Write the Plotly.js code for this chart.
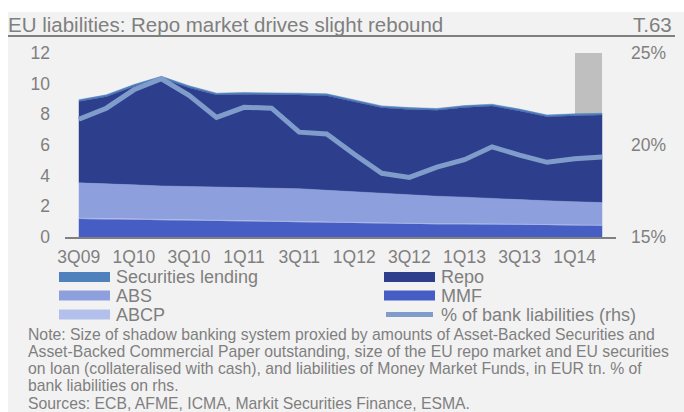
<!DOCTYPE html>
<html><head><meta charset="utf-8">
<script src="https://cdn.plot.ly/plotly-3.0.1.min.js"></script>
<style>html,body{margin:0;padding:0;background:#fff;} #chart{width:684px;height:412px;}</style>
</head><body><div id="chart"></div>
<script>
// ---- data (EUR tn, stacked) ----
const quarters = ['3Q09','4Q09','1Q10','2Q10','3Q10','4Q10','1Q11','2Q11','3Q11','4Q11','1Q12','2Q12','3Q12','4Q12','1Q13','2Q13','3Q13','4Q13','1Q14','2Q14'];
const mmf = [1.18,1.15,1.12,1.11,1.08,1.04,1.03,1.00,0.98,0.95,0.90,0.86,0.83,0.83,0.83,0.83,0.80,0.78,0.76,0.74];
const abcp = [0.06,0.06,0.06,0.05,0.05,0.05,0.05,0.05,0.05,0.05,0.04,0.04,0.04,0.04,0.04,0.04,0.04,0.03,0.03,0.03];
const abs = [2.29,2.27,2.22,2.17,2.17,2.18,2.16,2.15,2.12,2.05,2.01,1.95,1.88,1.79,1.73,1.64,1.59,1.55,1.51,1.48];
const repo = [5.30,5.67,6.41,7.02,6.44,5.99,6.06,6.10,6.11,6.17,5.88,5.58,5.57,5.60,5.85,6.03,5.79,5.48,5.61,5.70];
const secLending = [0.12,0.12,0.13,0.13,0.12,0.12,0.12,0.12,0.12,0.12,0.12,0.12,0.12,0.12,0.12,0.12,0.12,0.12,0.12,0.12];
const pctBankLiab = [21.4,22.0,23.0,23.6,22.7,21.5,22.05,22.0,20.7,20.6,19.5,18.46,18.24,18.8,19.2,19.9,19.45,19.06,19.25,19.35];
// grey highlight column
const highlightCat = ['2Q14'];
const highlightBase = [8.05];
const highlightHeight = [3.95];

const legendNames = ['Securities lending','Repo','ABS','MMF','ABCP','% of bank liabilities (rhs)'];
const noteLines = [
  'Note: Size of shadow banking system proxied by amounts of Asset-Backed Securities and',
  'Asset-Backed Commercial Paper outstanding, size of the EU repo market and EU securities',
  'on loan (collateralised with cash), and liabilities of Money Market Funds, in EUR tn. % of',
  'bank liabilities on rhs.',
  'Sources: ECB, AFME, ICMA, Markit Securities Finance, ESMA.'
];
const titleText = 'EU liabilities: Repo market drives slight rebound';
const chartId = 'T.63';

// ---- styles ----
const C = {
  sec: '#4f81bd', repo: '#2c3e8c', abs: '#8d9fdc', mmf: '#465dc4', abcp: '#b4c0ec',
  pct: '#7f9ccb', grey: '#bfbfbf', bg: '#f2f2f2', text: '#7f7f7f', axis: '#808080'
};
const FONT = 'Liberation Sans, Arial, sans-serif';
const legendColors = [C.sec, C.repo, C.abs, C.mmf, C.abcp, C.pct];

const W = 684, H = 412;
const L = 65, R = 616, T = 53, B = 237;
const px2x = p => (p - L) / (R - L);
const py2y = p => (B - p) / (B - T);

function area(name, y, color) {
  return {type:'scatter', mode:'lines', name, x: quarters, y, stackgroup:'eu',
    line:{width:0.5, color}, fillcolor: color, showlegend:false, hoverinfo:'x+y+name'};
}
const traces = [
  area('MMF', mmf, C.mmf),
  area('ABCP', abcp, C.abcp),
  area('ABS', abs, C.abs),
  area('Repo', repo, C.repo),
  area('Securities lending', secLending, C.sec),
  {type:'bar', x: highlightCat, y: highlightHeight, base: highlightBase, offset:-1, width:1,
   marker:{color:C.grey, line:{width:0}}, showlegend:false, hoverinfo:'skip'},
  {type:'scatter', mode:'lines', name:'% of bank liabilities (rhs)', x: quarters, y: pctBankLiab,
   yaxis:'y2', line:{color:C.pct, width:5}, showlegend:false}
];

const shapes = [
  {type:'rect', xref:'paper', yref:'paper', x0:px2x(8), x1:px2x(W), y0:py2y(H), y1:py2y(12),
   fillcolor:C.bg, line:{width:0}, layer:'below'},
  {type:'line', xref:'paper', yref:'paper', x0:px2x(8), x1:px2x(675), y0:py2y(36), y1:py2y(36),
   line:{color:C.text, width:2}}
];
const annotations = [
  {xref:'paper', yref:'paper', x:px2x(674), y:py2y(24.5), xanchor:'right', yanchor:'middle',
   text: chartId, showarrow:false, font:{family:FONT, size:20.5, color:C.text}}
];

// manual two-column legend
const legCols = [59, 384], legRows = [277, 295.6, 314.6];
legendNames.forEach((nm, i) => {
  const col = i % 2, row = Math.floor(i / 2);
  const x0 = legCols[col], yc = legRows[row];
  if (i === 5) {
    shapes.push({type:'line', xref:'paper', yref:'paper', x0:px2x(x0+2), x1:px2x(x0+49), y0:py2y(yc), y1:py2y(yc),
      line:{color:legendColors[i], width:5}});
  } else {
    shapes.push({type:'rect', xref:'paper', yref:'paper', x0:px2x(x0), x1:px2x(x0+51), y0:py2y(yc+5), y1:py2y(yc-5),
      fillcolor:legendColors[i], line:{width:0}});
  }
  annotations.push({xref:'paper', yref:'paper', x:px2x(x0+55), y:py2y(yc), xanchor:'left', yanchor:'middle',
    text:nm, showarrow:false, font:{family:FONT, size:18, color:C.text}});
});
noteLines.forEach((t, k) => {
  annotations.push({xref:'paper', yref:'paper', x:px2x(26), y:py2y(334 + 17.3*k), xanchor:'left', yanchor:'middle',
    text:t, showarrow:false, font:{family:FONT, size:15.75, color:C.text}});
});

const layout = {
  width: W, height: H,
  margin: {l: L, r: W - R, t: T, b: H - B, pad: 0},
  paper_bgcolor: '#ffffff', plot_bgcolor: 'rgba(0,0,0,0)',
  font: {family: FONT, color: C.text},
  title: {text: titleText, font:{family:FONT, size:20.5, color:C.text},
    xref:'container', yref:'container', x: 8/W, xanchor:'left', y: 1 - 24.5/H, yanchor:'middle'},
  showlegend: false,
  bargap: 0,
  xaxis: {type:'category', range:[-0.5, 19.5], tickmode:'linear', tick0:0, dtick:2,
    showline:true, linecolor:C.axis, linewidth:2, ticks:'', showgrid:false, zeroline:false,
    tickfont:{family:FONT, size:17.5, color:C.text}, ticklabelstandoff: 3, fixedrange:true},
  yaxis: {range:[0,12], tickmode:'linear', tick0:0, dtick:2, showline:false, showgrid:false, zeroline:false,
    ticks:'', tickfont:{family:FONT, size:17.5, color:C.text}, ticklabelstandoff: 14},
  yaxis2: {range:[15,25], tickmode:'linear', tick0:15, dtick:5, ticksuffix:'%', overlaying:'y', side:'right',
    anchor:'x', showline:false, showgrid:false, zeroline:false, ticks:'',
    tickfont:{family:FONT, size:17.5, color:C.text}, ticklabelstandoff: 14},
  shapes, annotations
};

Plotly.newPlot('chart', traces, layout, {staticPlot:true, displayModeBar:false});
</script>
</body></html>
